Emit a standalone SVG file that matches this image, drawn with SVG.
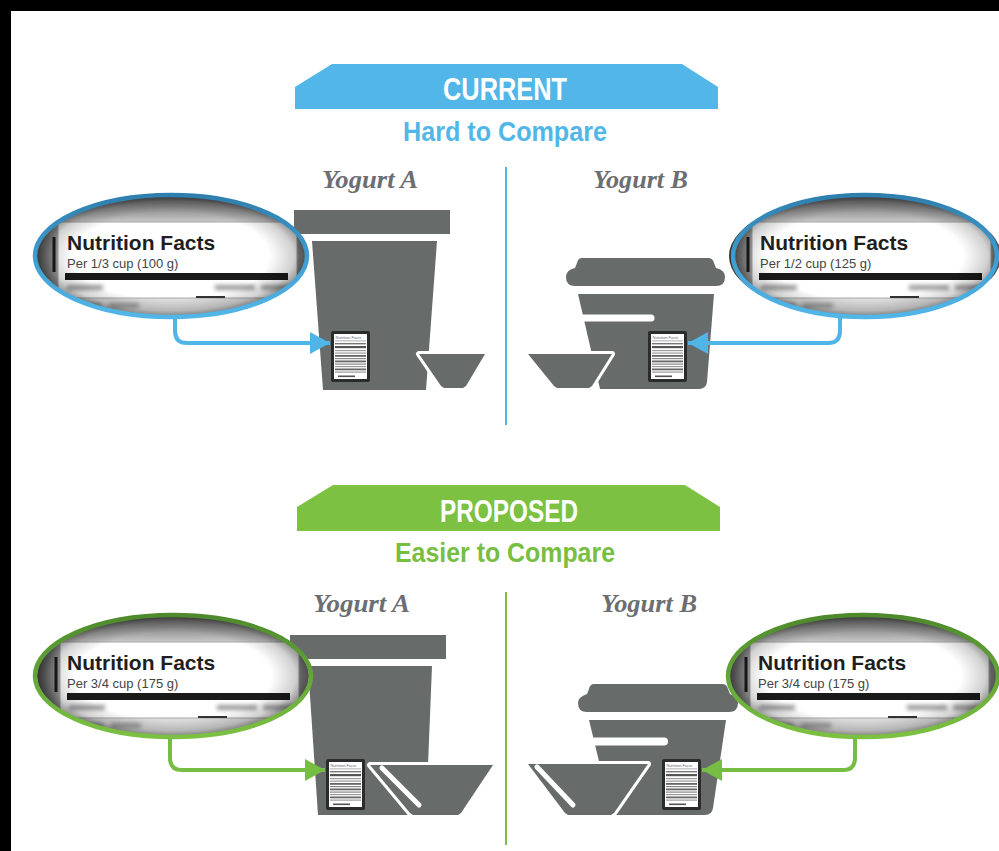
<svg xmlns="http://www.w3.org/2000/svg" width="999" height="851" viewBox="0 0 999 851">
  <defs>
    <style>
      .tub{fill:#676c6b}
      .bowl{fill:#676c6b;stroke:#fff;stroke-width:6;paint-order:stroke;stroke-linejoin:round}
      .slit{stroke:#fff;stroke-linecap:round;fill:none}
      .banner-title{font-family:"Liberation Sans",Arial,sans-serif;font-weight:bold;fill:#fff;font-size:32px}
      .subtitle{font-family:"Liberation Sans",Arial,sans-serif;font-weight:bold;font-size:28px}
      .product{font-family:"Liberation Serif","Times New Roman",serif;font-weight:bold;font-style:italic;font-size:25px;fill:#6d6e71}
      .nf-title{font-family:"Liberation Sans",Arial,sans-serif;font-weight:bold;font-size:21px;fill:#1f1f1f}
      .nf-serving{font-family:"Liberation Sans",Arial,sans-serif;font-size:13px;fill:#444}
      .conn-blue{fill:none;stroke:#4fb4e6;stroke-width:4}
      .conn-green{fill:none;stroke:#76bd43;stroke-width:4}
      .mini-text{font-family:"Liberation Sans",Arial,sans-serif;font-size:4px;fill:#667}
    </style>

    <linearGradient id="ringBlue" x1="0" y1="0" x2="0" y2="1">
      <stop offset="0" stop-color="#2f7fae"/>
      <stop offset="0.55" stop-color="#3f9fd3"/>
      <stop offset="1" stop-color="#52b7e8"/>
    </linearGradient>
    <linearGradient id="ringGreen" x1="0" y1="0" x2="0" y2="1">
      <stop offset="0" stop-color="#4e8a2c"/>
      <stop offset="0.55" stop-color="#66a83a"/>
      <stop offset="1" stop-color="#7cc142"/>
    </linearGradient>
    <linearGradient id="topShade" x1="0" y1="0" x2="0" y2="1">
      <stop offset="0" stop-color="#444"/>
      <stop offset="1" stop-color="#c8c8c8"/>
    </linearGradient>
    <linearGradient id="sideShade" x1="0" y1="0" x2="1" y2="0">
      <stop offset="0" stop-color="#505050"/>
      <stop offset="1" stop-color="#a0a0a0"/>
    </linearGradient>
    <radialGradient id="vignette" cx="0.5" cy="0.5" r="0.5">
      <stop offset="0" stop-color="#000" stop-opacity="0"/>
      <stop offset="0.72" stop-color="#000" stop-opacity="0"/>
      <stop offset="0.9" stop-color="#000" stop-opacity="0.18"/>
      <stop offset="1" stop-color="#000" stop-opacity="0.45"/>
    </radialGradient>
    <filter id="soft" x="-20%" y="-100%" width="140%" height="300%">
      <feGaussianBlur stdDeviation="2"/>
    </filter>
    <clipPath id="lensClip">
      <ellipse cx="0" cy="0" rx="136" ry="61"/>
    </clipPath>

    <marker id="headBlue" viewBox="0 0 20 22" refX="20" refY="11" markerWidth="20" markerHeight="22" markerUnits="userSpaceOnUse" orient="auto">
      <path d="M0,0 L20,11 L0,22 Z" fill="#4fb4e6"/>
    </marker>
    <marker id="headGreen" viewBox="0 0 20 22" refX="20" refY="11" markerWidth="20" markerHeight="22" markerUnits="userSpaceOnUse" orient="auto">
      <path d="M0,0 L20,11 L0,22 Z" fill="#76bd43"/>
    </marker>

    <!-- magnified label panel, centred on 0,0 -->
    <g id="nf-panel">
      <g clip-path="url(#lensClip)">
        <rect x="-140" y="-65" width="280" height="130" fill="#dcdcdc"/>
        <rect x="-140" y="-65" width="280" height="31" fill="url(#topShade)"/>
        <rect x="-140" y="-34" width="27" height="76" fill="url(#sideShade)"/>
        <rect x="126" y="-34" width="14" height="76" fill="#8c8c8c"/>
        <rect x="-113" y="-34" width="239" height="76" fill="#fff" stroke="#a8a8a8" stroke-width="1"/>
        <rect x="-118.5" y="-19" width="3" height="35" fill="#1a1a1a"/>
        <rect x="-106" y="17" width="223" height="7" fill="#1a1a1a"/>
        <g filter="url(#soft)" fill="#999">
          <rect x="-104" y="29" width="36" height="5"/>
          <rect x="44" y="29" width="40" height="5"/>
          <rect x="90" y="29" width="32" height="5"/>
          <rect x="-100" y="47" width="30" height="5"/>
          <rect x="-62" y="47" width="30" height="5"/>
        </g>
        <rect x="25" y="40" width="29" height="2" fill="#333"/>
        <ellipse cx="0" cy="0" rx="136" ry="61" fill="url(#vignette)"/>
      </g>
    </g>

    <!-- small nutrition label printed on a tub -->
    <symbol id="mini-label" viewBox="0 0 39 51" width="39" height="51">
      <rect x="0" y="0" width="39" height="51" rx="2" fill="#2b2b2b"/>
      <rect x="3" y="3" width="33" height="45" fill="#fff"/>
      <text x="4.5" y="7.5" class="mini-text">Nutrition Facts</text>
      <rect x="4" y="9.5" width="31" height="0.8" fill="#999"/>
      <rect x="4" y="12" width="31" height="1.4" fill="#777"/>
      <rect x="4" y="15" width="31" height="2.2" fill="#555"/>
      <rect x="4" y="19" width="31" height="1.2" fill="#999"/>
      <rect x="4" y="21.5" width="31" height="1.2" fill="#999"/>
      <rect x="4" y="24" width="31" height="1.8" fill="#666"/>
      <rect x="4" y="27" width="31" height="1.2" fill="#888"/>
      <rect x="4" y="29.5" width="31" height="1.8" fill="#666"/>
      <rect x="4" y="32.5" width="31" height="1.2" fill="#888"/>
      <rect x="4" y="35" width="31" height="1.2" fill="#999"/>
      <rect x="4" y="37.5" width="31" height="1.8" fill="#666"/>
      <rect x="4" y="40.5" width="31" height="1.2" fill="#999"/>
      <rect x="7" y="44.5" width="17" height="1.6" fill="#555"/>
    </symbol>
  </defs>

  <rect x="0" y="0" width="999" height="851" fill="#fff"/>

  <!-- page frame -->
  <g id="frame" fill="#000">
    <rect x="0" y="0" width="999" height="11"/>
    <rect x="0" y="0" width="11" height="851"/>
  </g>

  <!-- section headings -->
  <g id="current-banner">
    <polygon points="295,87 332,64 682,64 718,87 718,109 295,109" fill="#52b7e8"/>
    <text x="505" y="100" text-anchor="middle" class="banner-title" textLength="124" lengthAdjust="spacingAndGlyphs">CURRENT</text>
    <text x="505" y="141" text-anchor="middle" class="subtitle" fill="#52b7e8" textLength="204" lengthAdjust="spacingAndGlyphs">Hard to Compare</text>
  </g>
  <g id="proposed-banner">
    <polygon points="297,507 333,485 685,485 720,507 720,531 297,531" fill="#7cc142"/>
    <text x="509" y="522" text-anchor="middle" class="banner-title" textLength="138" lengthAdjust="spacingAndGlyphs">PROPOSED</text>
    <text x="505" y="562" text-anchor="middle" class="subtitle" fill="#78be43" textLength="220" lengthAdjust="spacingAndGlyphs">Easier to Compare</text>
  </g>

  <g id="dividers">
    <line x1="506" y1="167" x2="506" y2="425" stroke="#52b7e8" stroke-width="2"/>
    <line x1="506" y1="592" x2="506" y2="845" stroke="#7cc142" stroke-width="2"/>
  </g>

  <!-- product names -->
  <g id="product-names">
    <text x="322" y="188" class="product" textLength="96" lengthAdjust="spacingAndGlyphs">Yogurt A</text>
    <text x="593" y="188" class="product" textLength="95" lengthAdjust="spacingAndGlyphs">Yogurt B</text>
    <text x="313" y="612" class="product" textLength="97" lengthAdjust="spacingAndGlyphs">Yogurt A</text>
    <text x="601" y="612" class="product" textLength="96" lengthAdjust="spacingAndGlyphs">Yogurt B</text>
  </g>

  <!-- current: yogurt A tub -->
  <g id="tub-a-current">
    <rect x="294" y="210" width="156" height="24" class="tub"/>
    <polygon points="312,241 437,241 426,390 323,390" class="tub"/>
    <polygon points="419,354 485,354 466,386 463,388 444,388 441,386" class="bowl"/>
    <use href="#mini-label" x="331" y="331"/>
  </g>

  <!-- current: yogurt B tub -->
  <g id="tub-b-current">
    <path d="M582,258 H708 Q713,258 714,263 L716,268 Q725,270 725,277 Q725,286 716,286 H575 Q566,286 566,277 Q566,270 575,268 L577,263 Q578,258 582,258 Z" class="tub"/>
    <path d="M578,294 H714 L707,382 Q706,389 699,389 H600 Z" class="tub"/>
    <line x1="570" y1="318" x2="651" y2="318" class="slit" stroke-width="7"/>
    <polygon points="528,354 612,354 592,386 589,388 557,388 554,386" class="bowl"/>
    <use href="#mini-label" x="648" y="331"/>
  </g>

  <!-- proposed: yogurt A tub -->
  <g id="tub-a-proposed">
    <rect x="290" y="635" width="156" height="24" class="tub"/>
    <polygon points="308,666 432,666 426,815 318,815" class="tub"/>
    <polygon points="370,765 493,765 461,813 458,815 413,815 410,813" class="bowl"/>
    <line x1="382" y1="768" x2="419" y2="805" class="slit" stroke-width="5"/>
    <use href="#mini-label" x="326" y="759"/>
  </g>

  <!-- proposed: yogurt B tub -->
  <g id="tub-b-proposed">
    <path d="M592,684 H722 Q727,684 728,689 L730,694 Q738,697 738,703 Q738,712 729,712 H587 Q578,712 578,703 Q578,697 587,694 L589,689 Q590,684 594,684 Z" class="tub"/>
    <path d="M589,720 H726 L713,808 Q712,815 705,815 H612 Z" class="tub"/>
    <line x1="582" y1="741.5" x2="664" y2="741.5" class="slit" stroke-width="8"/>
    <polygon points="528,764 648,764 614,813 611,815 568,815 565,813" class="bowl"/>
    <line x1="537" y1="767" x2="573" y2="805" class="slit" stroke-width="5"/>
    <use href="#mini-label" x="662" y="759"/>
  </g>

  <!-- magnified labels -->
  <g id="lens-a-current">
    <use href="#nf-panel" transform="translate(171,256)"/>
    <text x="67" y="250" class="nf-title">Nutrition Facts</text>
    <text x="67" y="268" class="nf-serving">Per 1/3 cup (100 g)</text>
    <ellipse cx="171" cy="256" rx="136" ry="61" fill="none" stroke="url(#ringBlue)" stroke-width="4.5"/>
  </g>
  <g id="lens-b-current">
    <use href="#nf-panel" transform="translate(865,256)"/>
    <text x="760" y="250" class="nf-title">Nutrition Facts</text>
    <text x="760" y="268" class="nf-serving">Per 1/2 cup (125 g)</text>
    <ellipse cx="865" cy="256" rx="132" ry="61" fill="none" stroke="url(#ringBlue)" stroke-width="4.5"/>
  </g>
  <g id="lens-a-proposed">
    <use href="#nf-panel" transform="translate(173,676)"/>
    <text x="67" y="670" class="nf-title">Nutrition Facts</text>
    <text x="67" y="688" class="nf-serving">Per 3/4 cup (175 g)</text>
    <ellipse cx="173" cy="676" rx="138" ry="61" fill="none" stroke="url(#ringGreen)" stroke-width="4.5"/>
  </g>
  <g id="lens-b-proposed">
    <use href="#nf-panel" transform="translate(863,676)"/>
    <text x="758" y="670" class="nf-title">Nutrition Facts</text>
    <text x="758" y="688" class="nf-serving">Per 3/4 cup (175 g)</text>
    <ellipse cx="863" cy="676" rx="135" ry="61" fill="none" stroke="url(#ringGreen)" stroke-width="4.5"/>
  </g>

  <!-- connectors from each magnified label to its tub -->
  <g id="connectors">
    <path d="M175,318 V331 Q175,343 187,343 H330" class="conn-blue" marker-end="url(#headBlue)"/>
    <path d="M840,317 V331 Q840,343 828,343 H688" class="conn-blue" marker-end="url(#headBlue)"/>
    <path d="M170,738 V758 Q170,770 182,770 H325" class="conn-green" marker-end="url(#headGreen)"/>
    <path d="M855,737 V758 Q855,770 843,770 H702" class="conn-green" marker-end="url(#headGreen)"/>
  </g>
</svg>
